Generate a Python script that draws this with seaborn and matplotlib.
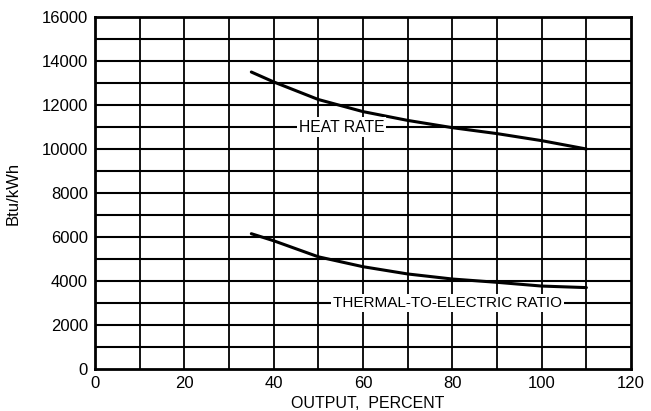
import matplotlib
matplotlib.use("Agg")
import matplotlib.pyplot as plt
import seaborn as sns
import pandas as pd

# Performance curves versus output
output_pct = [35, 40, 50, 60, 70, 80, 90, 100, 110]
heat_rate = [13500, 13050, 12250, 11700, 11300, 10970, 10700, 10380, 10000]
thermal_ratio = [6150, 5830, 5100, 4650, 4320, 4090, 3940, 3770, 3700]

x_ticks = [0, 20, 40, 60, 80, 100, 120]
y_ticks = [0, 2000, 4000, 6000, 8000, 10000, 12000, 14000, 16000]

sns.set_theme(style="white")
plt.rcParams["font.family"] = ["Liberation Sans", "DejaVu Sans"]

df = pd.DataFrame({"output": output_pct, "heat": heat_rate, "ratio": thermal_ratio})

fig = plt.figure(figsize=(6.51, 4.11), dpi=100)
ax = fig.add_axes([0.1459, 0.1022, 0.8234, 0.8564])

# grid: every 10 % and every 1000 Btu/kWh
for gx in range(10, 120, 10):
    ax.axvline(gx, color="black", lw=1.3, zorder=1)
for gy in range(1000, 16000, 1000):
    ax.axhline(gy, color="black", lw=1.5, zorder=1)

sns.lineplot(data=df, x="output", y="heat", ax=ax, color="black", lw=2.2, zorder=3)
sns.lineplot(data=df, x="output", y="ratio", ax=ax, color="black", lw=2.2, zorder=3)

ax.set_xlim(0, 120)
ax.set_ylim(0, 16000)
ax.set_xticks(x_ticks)
ax.set_yticks(y_ticks)
ax.tick_params(axis="both", length=0, labelsize=12, colors="black", pad=5)

for s in ax.spines.values():
    s.set_color("black")
    s.set_linewidth(2)

ax.set_xlabel("OUTPUT,  PERCENT", fontsize=11.5, color="black")
ax.xaxis.set_label_coords(0.508, -0.076)
ax.set_ylabel("Btu/kWh", fontsize=12, color="black")
ax.yaxis.set_label_coords(-0.138, 0.5)

box = dict(facecolor="white", edgecolor="none", pad=1.5)
ax.text(55.2, 11000, "HEAT RATE", ha="center", va="center", fontsize=11.3,
        color="black", bbox=box, zorder=4)
ax.text(78.9, 3000, "THERMAL-TO-ELECTRIC RATIO", ha="center", va="center",
        fontsize=11, color="black", bbox=box, zorder=4)

fig.savefig("out.png", dpi=100)
